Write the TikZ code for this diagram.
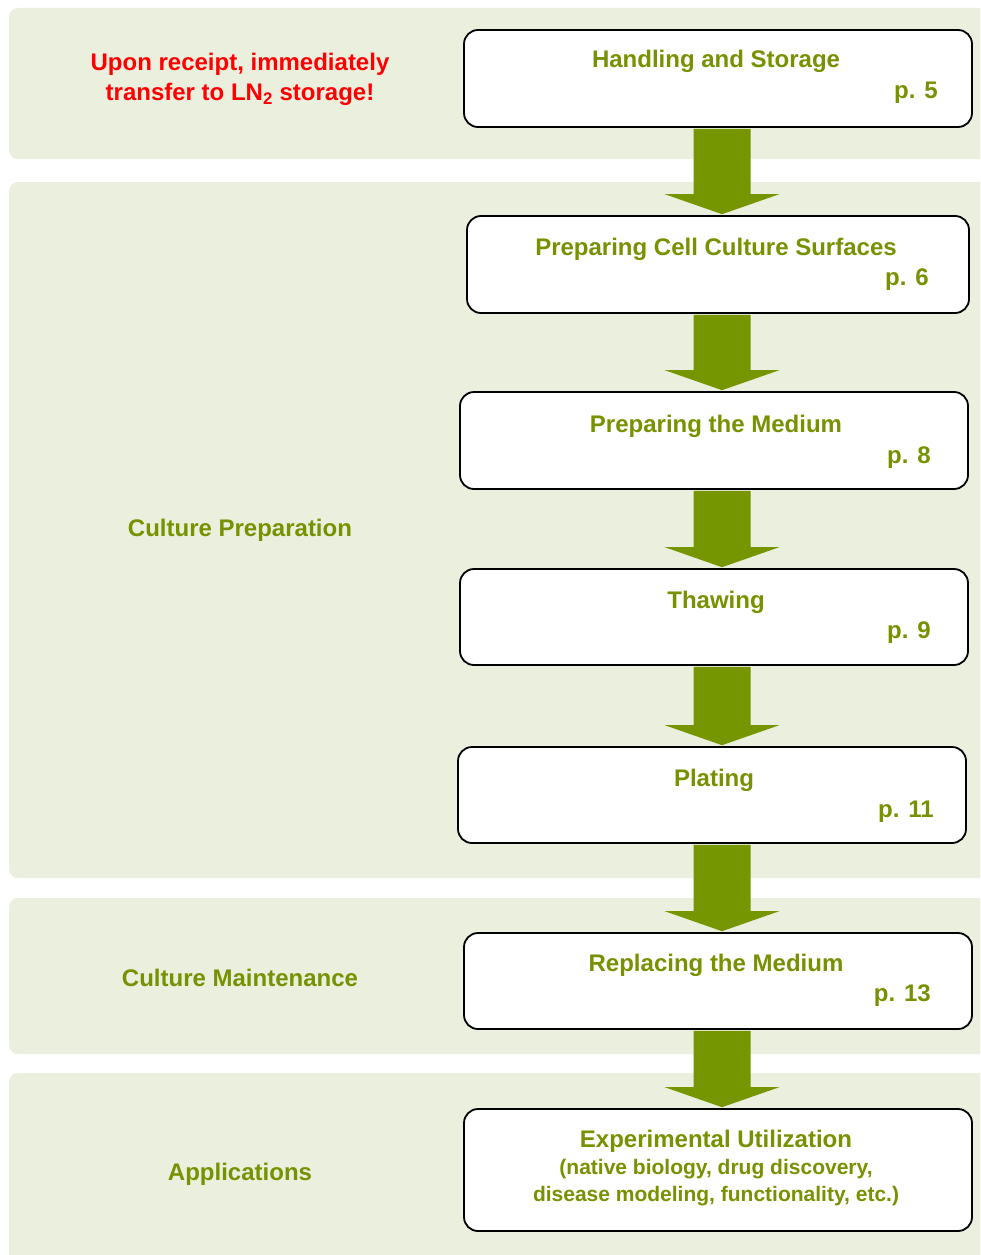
\documentclass[tikz,border=0pt]{standalone}
\usepackage{fontspec}
\setmainfont{Liberation Sans}
\usetikzlibrary{positioning, calc}

\definecolor{bandgreen}{RGB}{234,239,222}
\definecolor{leafgreen}{RGB}{118,150,0}
\definecolor{textgreen}{RGB}{118,146,0}

% thick block arrow from one box down to the next
\newcommand{\flowarrow}[2]{%
    \fill[leafgreen] ($(#1.south -| ax)+(-28.5,0.9)$) -- ($(#2.north -| ax)+(-28.5,-21)$)
        -- ($(#2.north -| ax)+(-57.5,-21)$) -- ($(#2.north -| ax)+(0,-0.9)$)
        -- ($(#2.north -| ax)+(57.5,-21)$) -- ($(#2.north -| ax)+(28.5,-21)$)
        -- ($(#1.south -| ax)+(28.5,0.9)$) -- cycle;}

\begin{document}
\begin{tikzpicture}[x=1pt, y=-1pt,
    stepbox/.style={draw=black, line width=1.8pt, fill=white, rounded corners=14pt, inner sep=0pt},
    title/.style={text=textgreen, font=\fontsize{24}{30}\selectfont\bfseries, inner sep=0pt, anchor=base},
    small/.style={text=textgreen, font=\fontsize{21}{27}\selectfont\bfseries, inner sep=0pt, anchor=base, align=center},
    page/.style={text=textgreen, font=\fontsize{24}{30}\selectfont\bfseries, inner sep=0pt, anchor=base east},
    phase/.style={text=textgreen, font=\fontsize{24}{30}\selectfont\bfseries, inner sep=0pt, anchor=base}]
    \clip (0,0) rectangle (980,1255);
    \fill[white] (0,0) rectangle (980,1255);

    % Bands
    \fill[bandgreen, rounded corners=9pt] (9,8) rectangle (1000,159);
    \fill[bandgreen, rounded corners=9pt] (9,182) rectangle (1000,878);
    \fill[bandgreen, rounded corners=9pt] (9,898) rectangle (1000,1054);
    \fill[bandgreen, rounded corners=9pt] (9,1073) rectangle (1000,1280);

    % Phase labels (base = last line)
    \node[text=red, font=\fontsize{24}{30}\selectfont\bfseries, inner sep=0pt, anchor=base, align=center]
        (warn) at (240,100.5) {Upon receipt, immediately\\transfer to LN\textsubscript{2} storage!};
    \node[phase] (prep) at (240,536.5) {Culture Preparation};
    \node[phase] (maint) at (240,986.5) {Culture Maintenance};
    \node[phase] (appl) at (240,1180.5) {Applications};

    % Boxes
    \node[stepbox, minimum width=508pt, minimum height=97pt] (hs) at (718,78.5) {};
    \node[stepbox, minimum width=502pt, minimum height=97pt] (pc) at (718,264.5) {};
    \node[stepbox, minimum width=508pt, minimum height=97pt] (pm) at (714,440.5) {};
    \node[stepbox, minimum width=508pt, minimum height=96pt] (th) at (714,617) {};
    \node[stepbox, minimum width=508pt, minimum height=96pt] (pl) at (712,795) {};
    \node[stepbox, minimum width=508pt, minimum height=96pt] (rm) at (718,981) {};
    \node[stepbox, minimum width=508pt, minimum height=122pt] (eu) at (718,1170) {};

    % Box texts
    \node[title] (hst) at (716,67.5) {Handling and Storage};
    \node[page] (hsp) at (938,98) {p. 5};
    \node[title] (pct) at (716,255.5) {Preparing Cell Culture Surfaces};
    \node[page] (pcp) at (929,285.5) {p. 6};
    \node[title] (pmt) at (716,432.5) {Preparing the Medium};
    \node[page] (pmp) at (931,463.5) {p. 8};
    \node[title] (tht) at (716,608.5) {Thawing};
    \node[page] (thp) at (931,638.5) {p. 9};
    \node[title] (plt) at (714,786.5) {Plating};
    \node[page] (plp) at (934,817.5) {p. 11};
    \node[title] (rmt) at (716,971.5) {Replacing the Medium};
    \node[page] (rmp) at (931,1001.5) {p. 13};
    \node[title] (eut) at (716,1147.5) {Experimental Utilization};
    \node[small] (eus) at (716,1201.5) {(native biology, drug discovery,\\disease modeling, functionality, etc.)};

    % Arrows
    \coordinate (ax) at (722,0);
    \flowarrow{hs}{pc}
    \flowarrow{pc}{pm}
    \flowarrow{pm}{th}
    \flowarrow{th}{pl}
    \flowarrow{pl}{rm}
    \flowarrow{rm}{eu}
\end{tikzpicture}
\end{document}
